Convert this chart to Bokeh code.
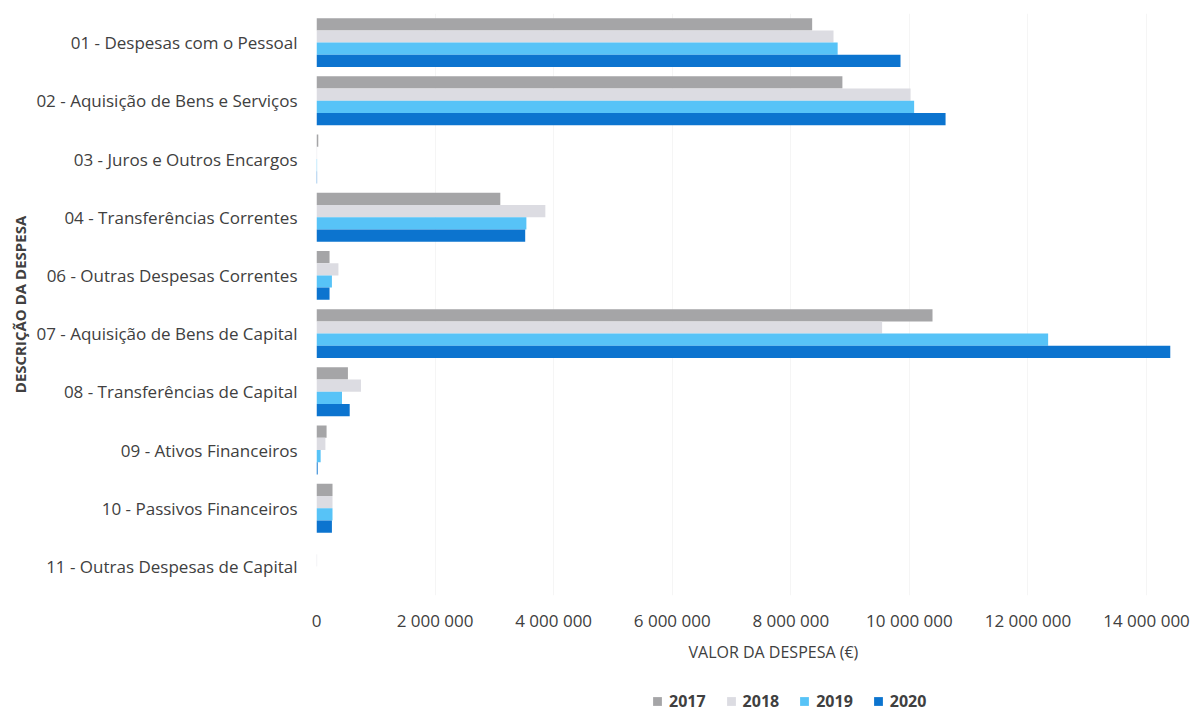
from bokeh.plotting import figure
from bokeh.layouts import column
from bokeh.models import (ColumnDataSource, FactorRange, Range1d, FixedTicker,
                          Legend, LegendItem, Title)
from bokeh.transform import dodge
from bokeh.embed import file_html
from bokeh.resources import INLINE

categories = [
    "01 - Despesas com o Pessoal",
    "02 - Aquisição de Bens e Serviços",
    "03 - Juros e Outros Encargos",
    "04 - Transferências Correntes",
    "06 - Outras Despesas Correntes",
    "07 - Aquisição de Bens de Capital",
    "08 - Transferências de Capital",
    "09 - Ativos Financeiros",
    "10 - Passivos Financeiros",
    "11 - Outras Despesas de Capital",
]
years = ["2017", "2018", "2019", "2020"]
v2017 = [8360000, 8870000, 30000, 3100000, 220000, 10390000, 530000, 170000, 270000, 0]
v2018 = [8720000, 10020000, 10000, 3860000, 370000, 9540000, 750000, 150000, 270000, 10000]
v2019 = [8790000, 10080000, 10000, 3540000, 260000, 12340000, 430000, 70000, 270000, 0]
v2020 = [9850000, 10610000, 10000, 3520000, 220000, 14400000, 560000, 20000, 260000, 0]
tick_values = [0, 2000000, 4000000, 6000000, 8000000, 10000000, 12000000, 14000000]
tick_labels = ["0", "2 000 000", "4 000 000", "6 000 000", "8 000 000",
               "10 000 000", "12 000 000", "14 000 000"]
x_title = "VALOR DA DESPESA (€)"
y_title = "DESCRIÇÃO DA DESPESA"

colors = ["#A5A5A7", "#DCDCE2", "#57C3F7", "#0C74CF"]
offsets = [0.315, 0.105, -0.105, -0.315]
FONT = "Open Sans"
TXT = "#404040"

source = ColumnDataSource(dict(cat=categories, y2017=v2017, y2018=v2018,
                               y2019=v2019, y2020=v2020))

LEG_H = 40
p = figure(width=1196, height=712 - LEG_H,
           y_range=FactorRange(*reversed(categories)),
           x_range=Range1d(0, 14640000),
           output_backend="svg", toolbar_location=None,
           min_border_left=316, min_border_right=12,
           min_border_top=13, min_border_bottom=77)
p.outline_line_color = None

renderers = []
for yr, col, off in zip(years, colors, offsets):
    r = p.hbar(y=dodge("cat", off, range=p.y_range), right="y" + yr, left=0,
               height=0.21, source=source, fill_color=col, line_color=None)
    renderers.append(r)

# axes
p.xaxis.ticker = FixedTicker(ticks=tick_values)
p.xaxis.major_label_overrides = dict(zip(tick_values, tick_labels))
p.yaxis.axis_label = y_title
for ax in (p.xaxis, p.yaxis):
    ax.axis_line_color = None
    ax.major_tick_line_color = None
    ax.minor_tick_line_color = None
    ax.major_label_text_font = FONT
    ax.major_label_text_color = TXT
    ax.axis_label_text_font = FONT
    ax.axis_label_text_color = TXT
p.xaxis.major_label_text_font_size = "17px"
p.xaxis.major_label_standoff = 7
p.yaxis.major_label_text_font_size = "17px"
p.yaxis.major_label_standoff = 13
p.yaxis.axis_label_text_font_size = "15px"
p.yaxis.axis_label_text_font_style = "bold"
p.yaxis.axis_label_standoff = 3

p.ygrid.grid_line_color = None
p.xgrid.grid_line_color = "#F5F5F5"

# x-axis title placed under the tick labels
p.add_layout(Title(text=x_title, align="left", offset=372, standoff=9,
                   text_font=FONT, text_font_size="16px",
                   text_font_style="normal", text_color=TXT), "below")

# legend strip (its frame is aligned with the main plot's frame)
lg = figure(width=1196, height=LEG_H, x_range=Range1d(0, 1), y_range=Range1d(0, 1),
            output_backend="svg", toolbar_location=None,
            min_border_left=316, min_border_right=12, min_border_top=0, min_border_bottom=0)
lg.axis.visible = False
lg.grid.visible = False
lg.outline_line_color = None
leg_r = []
for yr, col in zip(years, colors):
    # proxy marker placed outside the visible range, used only for the legend swatch
    leg_r.append(lg.scatter(x=[-5], y=[-5], marker="square", size=10,
                            fill_color=col, line_color=None))
legend = Legend(items=[LegendItem(label=yr, renderers=[r]) for yr, r in zip(years, leg_r)],
                orientation="horizontal", location=(329, 0),
                glyph_width=24, glyph_height=22, label_standoff=0, spacing=13,
                padding=0, margin=0, border_line_color=None,
                background_fill_alpha=0,
                label_text_font=FONT, label_text_font_size="16px",
                label_text_font_style="bold", label_text_color=TXT)
lg.add_layout(legend)

layout = column(p, lg, spacing=0)
open("out.html", "w").write(file_html(layout, INLINE))
